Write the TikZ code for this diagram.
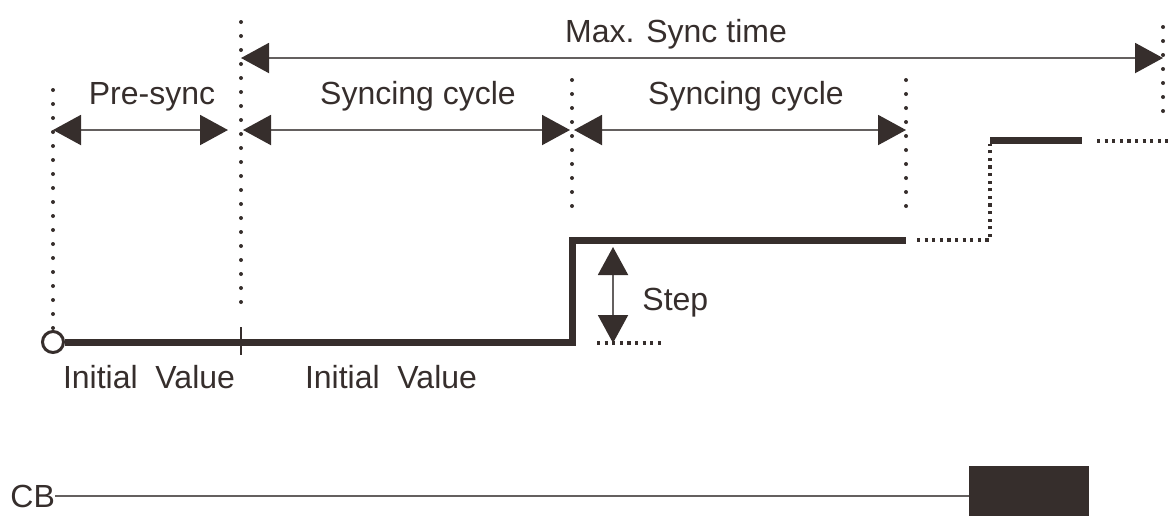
\documentclass[tikz,border=0pt]{standalone}
\usepackage{fontspec}
\setmainfont{Liberation Sans}
\usepackage{xcolor}
\usetikzlibrary{arrows.meta}
\usetikzlibrary{math}
\definecolor{qdark}{RGB}{54,46,44}
\definecolor{qgray}{RGB}{100,96,95}

\tikzset{
  spanarrow/.style={qgray, line width=1pt,
    {Triangle[length=14pt,width=15pt,color=qdark]}-{Triangle[length=14pt,width=15pt,color=qdark]}},
  guide/.style={qdark, line width=2pt, line cap=round, dash pattern=on 0pt off 7pt},
  fine/.style={qdark, line width=1.6pt, dash pattern=on 1.6pt off 2.2pt},
  level/.style={qdark, line width=3.5pt},
  lbl/.style={text=qdark, font=\fontsize{16pt}{19pt}\selectfont, inner sep=0pt, anchor=base},
}

\begin{document}
\begin{tikzpicture}[x=0.5pt, y=-0.5pt]
\tikzmath{
\xa=53; \xb=241; \xc=572; \xd=906; \xe=1163; \xf=990; \xg=1082;
\ylo=342; \yhi=240; \ytop=140; \ya=130; \ym=58;
}
\useasboundingbox (0,0) rectangle (1170,516);

% time marks
\coordinate (t0) at (\xa,\ya);
\coordinate (t1) at (\xb,\ya);
\coordinate (t2) at (\xc,\ya);
\coordinate (t3) at (\xd,\ya);
\coordinate (m0) at (\xb,\ym);
\coordinate (m1) at (\xe,\ym);
\draw[guide] (\xa,90) -- (\xa,330);
\draw[guide] (\xb,22) -- (\xb,310);
\draw[guide] (\xc,80) -- (\xc,212);
\draw[guide] (\xd,80) -- (\xd,212);
\draw[guide] (\xe,27) -- (\xe,112);

% spans
\draw[spanarrow] (m0) -- (m1);
\draw[spanarrow, shorten >=6.5pt] (t0) -- (t1);
\draw[spanarrow, shorten <=1pt, shorten >=1pt] (t1) -- (t2);
\draw[spanarrow, shorten <=1pt] (t2) -- (t3);
\node[lbl] (maxsync) at (676,42) {Max. Sync time};
\node[lbl] (presync) at (152,104) {Pre-sync};
\node[lbl] (cycle1) at (418,104) {Syncing cycle};
\node[lbl] (cycle2) at (746,104) {Syncing cycle};

% set value
\node[circle, draw=qdark, fill=white, line width=1.5pt, minimum size=10.5pt, inner sep=0pt] (init) at (\xa,\ylo) {};
\draw[level] (init.east) -- (\xc,\ylo) -- (\xc,\yhi) -- (\xd,\yhi);
\draw[qdark, line width=1.3pt] (\xb,327) -- (\xb,355);
\draw[fine] (\xd+11,\yhi) -- (\xf,\yhi) -- (\xf,\ytop+4);
\draw[level] (\xf,\ytop) -- (\xg,\ytop);
\draw[fine] (1097,\ytop+1) -- (1168,\ytop+1);
\node[lbl] (init1) at (149,388) {Initial\ \ Value};
\node[lbl] (init2) at (391,388) {Initial\ \ Value};

% step
\coordinate (stephi) at (613,247);
\coordinate (steplo) at (613,343);
\draw[spanarrow] (steplo) -- (stephi);
\draw[fine] (597,343) -- (663,343);
\node[lbl, anchor=base west] (step) at (642,310) {Step};

% CB
\node[lbl, anchor=base west] (cb) at (10,507) {CB};
\node[fill=qdark, minimum width=60pt, minimum height=25pt, inner sep=0pt, anchor=north west] (cbon) at (969,466) {};
\draw[qgray, line width=1.2pt] (cb.east) -- (cb.east -| cbon.west);
\end{tikzpicture}
\end{document}
